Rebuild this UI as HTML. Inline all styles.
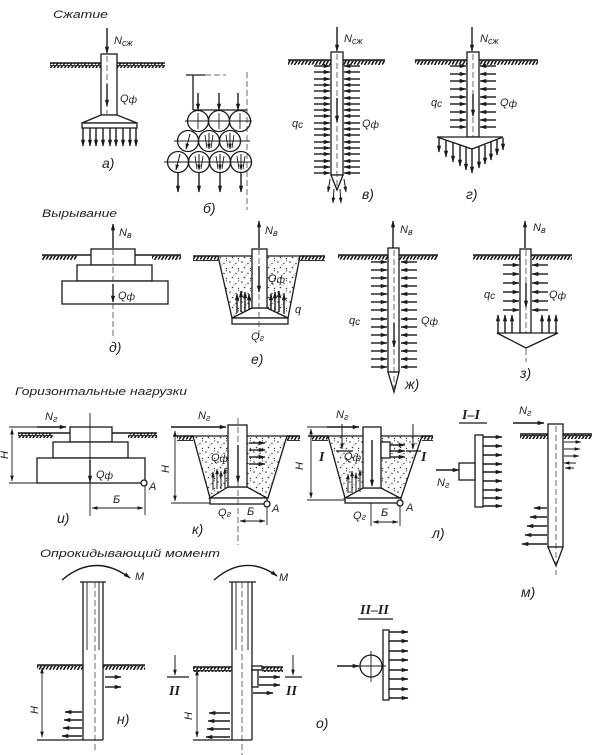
<!DOCTYPE html>
<html><head><meta charset="utf-8">
<style>
html,body{margin:0;padding:0;background:#fff;}
svg{display:block}
text{font-family:"Liberation Sans",sans-serif;font-style:italic;fill:#1e1e1e;font-size:11px}
.lb{font-size:14px}
.rn{font-family:"Liberation Serif",serif;font-size:14px;font-weight:bold}
.s{stroke:#1a1a1a;stroke-width:1.3;fill:none}
.w{stroke:#1a1a1a;stroke-width:1.3;fill:#fff}
.t{stroke:#1a1a1a;stroke-width:0.9;fill:none}
.d{stroke:#444;stroke-width:0.8;fill:none;stroke-dasharray:6 3}
.a{stroke:#1a1a1a;stroke-width:1.4;fill:none;marker-end:url(#m)}
.a2{stroke:#1a1a1a;stroke-width:1;fill:none;marker-end:url(#m2)}
.dm{stroke:#1a1a1a;stroke-width:0.9;fill:none;marker-end:url(#m2);marker-start:url(#m2s)}
.gl{stroke:#1a1a1a;stroke-width:1.6}
.gh{fill:url(#h)}
.tr{stroke:#1a1a1a;stroke-width:1.3;fill:url(#dots)}
</style></head>
<body>
<svg width="600" height="755" viewBox="0 0 600 755" xmlns="http://www.w3.org/2000/svg">
<defs>
<marker id="m" viewBox="0 0 10 6" refX="9" refY="3" markerWidth="7" markerHeight="4.6" markerUnits="userSpaceOnUse" orient="auto"><path d="M0,0L10,3L0,6z" fill="#1a1a1a"/></marker>
<marker id="m2" viewBox="0 0 10 6" refX="9" refY="3" markerWidth="6" markerHeight="3.6" markerUnits="userSpaceOnUse" orient="auto"><path d="M0,0L10,3L0,6z" fill="#1a1a1a"/></marker>
<marker id="m2s" viewBox="0 0 10 6" refX="9" refY="3" markerWidth="6" markerHeight="3.6" markerUnits="userSpaceOnUse" orient="auto-start-reverse"><path d="M0,0L10,3L0,6z" fill="#1a1a1a"/></marker>
<pattern id="h" width="7" height="5" patternUnits="userSpaceOnUse"><path d="M0.5,5L3.5,0M4.2,4.5L6.4,0.8" stroke="#111" stroke-width="1.5"/><rect x="0" y="0" width="7" height="1.2" fill="#333"/></pattern>
<pattern id="dots" width="12" height="10" patternUnits="userSpaceOnUse"><circle cx="2" cy="2" r=".8" fill="#333"/><circle cx="8" cy="3.5" r=".7" fill="#333"/><circle cx="4.5" cy="7.5" r=".8" fill="#333"/><circle cx="10.5" cy="8.5" r=".7" fill="#333"/><circle cx="10.5" cy="0.8" r=".6" fill="#333"/><circle cx="6" cy="5" r=".5" fill="#333"/></pattern>
<line id="R16" x1="0" y1="0" x2="16" y2="0" class="a"/>
<line id="L16" x1="16" y1="0" x2="0" y2="0" class="a"/>
<line id="R19" x1="0" y1="0" x2="19" y2="0" class="a"/>
<line id="R15" x1="0" y1="0" x2="15" y2="0" class="a"/>
<line id="L20" x1="20" y1="0" x2="0" y2="0" class="a"/>
<line id="D18" x1="0" y1="0" x2="0" y2="18" class="a"/>
<line id="U18" x1="0" y1="18" x2="0" y2="0" class="a"/>
</defs>

<!-- ===== Titles ===== -->
<text x="53" y="18" textLength="55" lengthAdjust="spacingAndGlyphs">Сжатие</text>
<text x="42" y="217" textLength="75" lengthAdjust="spacingAndGlyphs">Вырывание</text>
<text x="15" y="395" font-size="12" textLength="172" lengthAdjust="spacingAndGlyphs">Горизонтальные нагрузки</text>
<text x="40" y="557" font-size="12" textLength="180" lengthAdjust="spacingAndGlyphs">Опрокидывающий момент</text>

<!-- ===== а) ===== -->
<line x1="50" y1="63" x2="101" y2="63" class="gl"/><rect x="50" y="63" width="51" height="5" class="gh"/>
<line x1="117" y1="63" x2="165" y2="63" class="gl"/><rect x="117" y="63" width="48" height="5" class="gh"/>
<line x1="107" y1="28" x2="107" y2="53" class="a"/>
<text x="114" y="44">N<tspan font-size="9" dy="2">сж</tspan></text>
<rect x="101" y="54" width="16" height="61" class="w"/>
<line x1="107" y1="56" x2="107" y2="114" class="d"/>
<line x1="107" y1="84" x2="107" y2="106" class="a"/>
<text x="120" y="102">Q<tspan font-size="10" dy="1">ф</tspan></text>
<polygon points="101,115 117,115 137,123 82,123" class="w"/>
<rect x="82" y="123" width="55" height="5" class="w"/>
<use href="#D18" x="83" y="128"/><use href="#D18" x="90" y="128"/><use href="#D18" x="96" y="128"/><use href="#D18" x="103" y="128"/><use href="#D18" x="110" y="128"/><use href="#D18" x="116" y="128"/><use href="#D18" x="123" y="128"/><use href="#D18" x="130" y="128"/><use href="#D18" x="136" y="128"/>
<text x="102" y="168" class="lb">а)</text>

<!-- ===== б) ===== -->
<line x1="193" y1="75" x2="193" y2="110" class="s"/>
<line x1="186" y1="75" x2="205" y2="75" class="s"/>
<line x1="205" y1="75" x2="226" y2="75" class="d"/>
<line x1="247" y1="72" x2="247" y2="210" class="d"/>
<line x1="198" y1="93" x2="198" y2="110" class="a"/>
<line x1="219" y1="93" x2="219" y2="110" class="a"/>
<line x1="238" y1="93" x2="238" y2="110" class="a"/>
<line x1="193" y1="110" x2="247" y2="110" class="s"/>
<g class="s">
<circle cx="198" cy="121" r="10.5"/><circle cx="219" cy="121" r="10.5"/><circle cx="240" cy="121" r="10.5"/>
<circle cx="188" cy="141" r="10.5"/><circle cx="209" cy="141" r="10.5"/><circle cx="230" cy="141" r="10.5"/>
<circle cx="178" cy="162" r="10.5"/><circle cx="199" cy="162" r="10.5"/><circle cx="220" cy="162" r="10.5"/><circle cx="241" cy="162" r="10.5"/>
</g>
<g class="t">
<line x1="185" y1="121" x2="252" y2="121"/><line x1="174" y1="141" x2="250" y2="141"/><line x1="164" y1="162" x2="252" y2="162"/>
<line x1="198" y1="113" x2="198" y2="129"/><line x1="219" y1="113" x2="219" y2="129"/><line x1="240" y1="113" x2="240" y2="129"/>
</g>
<line x1="190" y1="134" x2="186" y2="149" class="a2"/>
<line x1="209" y1="133" x2="209" y2="149" class="a2"/><line x1="205" y1="135" x2="207" y2="148" class="t"/><line x1="213" y1="135" x2="211" y2="148" class="t"/>
<line x1="230" y1="133" x2="230" y2="149" class="a2"/><line x1="226" y1="135" x2="228" y2="148" class="t"/><line x1="234" y1="135" x2="232" y2="148" class="t"/>
<line x1="180" y1="154" x2="176" y2="170" class="a2"/>
<line x1="199" y1="154" x2="199" y2="170" class="a2"/><line x1="195" y1="156" x2="197" y2="169" class="t"/><line x1="203" y1="156" x2="201" y2="169" class="t"/>
<line x1="220" y1="154" x2="220" y2="170" class="a2"/><line x1="216" y1="156" x2="218" y2="169" class="t"/><line x1="224" y1="156" x2="222" y2="169" class="t"/>
<line x1="241" y1="154" x2="241" y2="170" class="a2"/><line x1="237" y1="156" x2="239" y2="169" class="t"/><line x1="245" y1="156" x2="243" y2="169" class="t"/>
<line x1="178" y1="172" x2="178" y2="192" class="a"/><line x1="199" y1="172" x2="199" y2="192" class="a"/><line x1="220" y1="172" x2="220" y2="192" class="a"/><line x1="241" y1="172" x2="241" y2="192" class="a"/>
<text x="203" y="213" class="lb">б)</text>

<!-- ===== в) ===== -->
<line x1="288" y1="60" x2="331" y2="60" class="gl"/><rect x="288" y="60" width="43" height="5" class="gh"/>
<line x1="343" y1="60" x2="385" y2="60" class="gl"/><rect x="343" y="60" width="42" height="5" class="gh"/>
<line x1="337" y1="27" x2="337" y2="51" class="a"/>
<text x="344" y="42">N<tspan font-size="9" dy="2">сж</tspan></text>
<rect x="331" y="52" width="12" height="123" class="w"/>
<polygon points="331,175 337,190 343,175" class="w"/>
<line x1="337" y1="54" x2="337" y2="188" class="d"/>
<line x1="337" y1="98" x2="337" y2="122" class="a"/>
<g>
<use href="#R16" x="314" y="66"/><use href="#R16" x="314" y="72"/><use href="#R16" x="314" y="79"/><use href="#R16" x="314" y="85"/><use href="#R16" x="314" y="91"/><use href="#R16" x="314" y="98"/><use href="#R16" x="314" y="104"/><use href="#R16" x="314" y="110"/><use href="#R16" x="314" y="116"/><use href="#R16" x="314" y="123"/><use href="#R16" x="314" y="129"/><use href="#R16" x="314" y="135"/><use href="#R16" x="314" y="142"/><use href="#R16" x="314" y="148"/><use href="#R16" x="314" y="154"/><use href="#R16" x="314" y="161"/><use href="#R16" x="314" y="167"/><use href="#R16" x="314" y="173"/>
<use href="#L16" x="344" y="66"/><use href="#L16" x="344" y="72"/><use href="#L16" x="344" y="79"/><use href="#L16" x="344" y="85"/><use href="#L16" x="344" y="91"/><use href="#L16" x="344" y="98"/><use href="#L16" x="344" y="104"/><use href="#L16" x="344" y="110"/><use href="#L16" x="344" y="116"/><use href="#L16" x="344" y="123"/><use href="#L16" x="344" y="129"/><use href="#L16" x="344" y="135"/><use href="#L16" x="344" y="142"/><use href="#L16" x="344" y="148"/><use href="#L16" x="344" y="154"/><use href="#L16" x="344" y="161"/><use href="#L16" x="344" y="167"/><use href="#L16" x="344" y="173"/>
</g>
<line x1="330" y1="179" x2="328" y2="192" class="a2"/><line x1="334" y1="189" x2="333" y2="203" class="a2"/><line x1="340" y1="189" x2="341" y2="203" class="a2"/><line x1="344" y1="179" x2="346" y2="192" class="a2"/>
<text x="292" y="127">q<tspan font-size="10" dy="1">с</tspan></text>
<text x="362" y="127">Q<tspan font-size="10" dy="1">ф</tspan></text>
<text x="362" y="199" class="lb">в)</text>

<!-- ===== г) ===== -->
<line x1="415" y1="60" x2="467" y2="60" class="gl"/><rect x="415" y="60" width="52" height="5" class="gh"/>
<line x1="479" y1="60" x2="538" y2="60" class="gl"/><rect x="479" y="60" width="59" height="5" class="gh"/>
<line x1="472" y1="27" x2="472" y2="51" class="a"/>
<text x="480" y="42">N<tspan font-size="9" dy="2">сж</tspan></text>
<rect x="467" y="52" width="12" height="85" class="w"/>
<line x1="473" y1="54" x2="473" y2="137" class="d"/>
<line x1="473" y1="94" x2="473" y2="116" class="a"/>
<polygon points="437,137 503,137 472,149" class="w"/>
<g>
<use href="#R16" x="450" y="66"/><use href="#R16" x="450" y="74"/><use href="#R16" x="450" y="81"/><use href="#R16" x="450" y="89"/><use href="#R16" x="450" y="97"/><use href="#R16" x="450" y="104"/><use href="#R16" x="450" y="112"/><use href="#R16" x="450" y="120"/><use href="#R16" x="450" y="127"/>
<use href="#L16" x="480" y="66"/><use href="#L16" x="480" y="74"/><use href="#L16" x="480" y="81"/><use href="#L16" x="480" y="89"/><use href="#L16" x="480" y="97"/><use href="#L16" x="480" y="104"/><use href="#L16" x="480" y="112"/><use href="#L16" x="480" y="120"/><use href="#L16" x="480" y="127"/>
</g>
<line x1="439" y1="138" x2="439" y2="152" class="a"/><line x1="446" y1="140" x2="446" y2="157" class="a"/><line x1="453" y1="142" x2="453" y2="162" class="a"/><line x1="460" y1="145" x2="460" y2="166" class="a"/><line x1="466" y1="147" x2="466" y2="170" class="a"/><line x1="472" y1="149" x2="472" y2="173" class="a"/><line x1="479" y1="147" x2="479" y2="168" class="a"/><line x1="485" y1="145" x2="485" y2="164" class="a"/><line x1="491" y1="142" x2="491" y2="160" class="a"/><line x1="497" y1="140" x2="497" y2="155" class="a"/><line x1="503" y1="138" x2="503" y2="150" class="a"/>
<text x="431" y="106">q<tspan font-size="10" dy="1">с</tspan></text>
<text x="500" y="106">Q<tspan font-size="10" dy="1">ф</tspan></text>
<text x="466" y="199" class="lb">г)</text>

<!-- ===== д) ===== -->
<line x1="42" y1="255" x2="91" y2="255" class="gl"/><rect x="42" y="255" width="35" height="5" class="gh"/>
<line x1="135" y1="255" x2="181" y2="255" class="gl"/><rect x="152" y="255" width="29" height="5" class="gh"/>
<rect x="91" y="249" width="44" height="16" class="w"/>
<rect x="77" y="265" width="75" height="16" class="w"/>
<rect x="62" y="281" width="106" height="23" class="w"/>
<line x1="113" y1="240" x2="113" y2="336" class="d"/>
<line x1="113" y1="248" x2="113" y2="224" class="a"/>
<text x="119" y="236">N<tspan font-size="9" dy="2">в</tspan></text>
<line x1="113" y1="284" x2="113" y2="302" class="a"/>
<text x="118" y="299">Q<tspan font-size="10" dy="1">ф</tspan></text>
<text x="109" y="352" class="lb">д)</text>

<!-- ===== е) ===== -->
<line x1="193" y1="256" x2="218" y2="256" class="gl"/><rect x="193" y="256" width="25" height="5" class="gh"/>
<line x1="300" y1="256" x2="325" y2="256" class="gl"/><rect x="300" y="256" width="25" height="5" class="gh"/>
<polygon points="218,256 300,256 288,318 232,318" class="tr"/>
<polygon points="252,308 267,308 288,318 232,318" class="w"/>
<rect x="232" y="318" width="56" height="6" class="w"/>
<rect x="252" y="249" width="15" height="59" class="w"/>
<line x1="259" y1="222" x2="259" y2="336" class="d"/>
<line x1="259" y1="248" x2="259" y2="221" class="a"/>
<text x="265" y="234">N<tspan font-size="9" dy="2">в</tspan></text>
<line x1="259" y1="266" x2="259" y2="292" class="a"/>
<text x="268" y="282">Q<tspan font-size="10" dy="1">ф</tspan></text>
<line x1="237" y1="313" x2="237" y2="294" class="a"/><line x1="241" y1="312" x2="241" y2="291" class="a"/><line x1="245" y1="311" x2="245" y2="292" class="a"/><line x1="249" y1="310" x2="249" y2="294" class="a"/>
<line x1="271" y1="310" x2="271" y2="294" class="a"/><line x1="275" y1="311" x2="275" y2="292" class="a"/><line x1="279" y1="312" x2="279" y2="291" class="a"/><line x1="284" y1="313" x2="284" y2="294" class="a"/>
<text x="295" y="313">q</text>
<text x="251" y="340">Q<tspan font-size="9" dy="1">г</tspan></text>
<text x="251" y="364" class="lb">е)</text>

<!-- ===== ж) ===== -->
<line x1="338" y1="255" x2="388" y2="255" class="gl"/><rect x="338" y="255" width="50" height="5" class="gh"/>
<line x1="399" y1="255" x2="438" y2="255" class="gl"/><rect x="399" y="255" width="39" height="5" class="gh"/>
<rect x="388" y="248" width="11" height="124" class="w"/>
<polygon points="388,372 394,392 399,372" class="w"/>
<line x1="394" y1="250" x2="394" y2="392" class="d"/>
<line x1="393" y1="248" x2="393" y2="221" class="a"/>
<text x="400" y="233">N<tspan font-size="9" dy="2">в</tspan></text>
<line x1="394" y1="323" x2="394" y2="347" class="a"/>
<g>
<use href="#R16" x="371" y="262"/><use href="#R16" x="371" y="270"/><use href="#R16" x="371" y="278"/><use href="#R16" x="371" y="286"/><use href="#R16" x="371" y="294"/><use href="#R16" x="371" y="302"/><use href="#R16" x="371" y="310"/><use href="#R16" x="371" y="319"/><use href="#R16" x="371" y="327"/><use href="#R16" x="371" y="335"/><use href="#R16" x="371" y="343"/><use href="#R16" x="371" y="351"/><use href="#R16" x="371" y="359"/><use href="#R16" x="371" y="367"/>
<use href="#L16" x="401" y="262"/><use href="#L16" x="401" y="270"/><use href="#L16" x="401" y="278"/><use href="#L16" x="401" y="286"/><use href="#L16" x="401" y="294"/><use href="#L16" x="401" y="302"/><use href="#L16" x="401" y="310"/><use href="#L16" x="401" y="319"/><use href="#L16" x="401" y="327"/><use href="#L16" x="401" y="335"/><use href="#L16" x="401" y="343"/><use href="#L16" x="401" y="351"/><use href="#L16" x="401" y="359"/><use href="#L16" x="401" y="367"/>
</g>
<text x="349" y="324">q<tspan font-size="10" dy="1">с</tspan></text>
<text x="421" y="324">Q<tspan font-size="10" dy="1">ф</tspan></text>
<text x="405" y="389" class="lb">ж)</text>

<!-- ===== з) ===== -->
<line x1="473" y1="255" x2="520" y2="255" class="gl"/><rect x="473" y="255" width="47" height="5" class="gh"/>
<line x1="531" y1="255" x2="572" y2="255" class="gl"/><rect x="531" y="255" width="41" height="5" class="gh"/>
<rect x="520" y="249" width="11" height="84" class="w"/>
<line x1="526" y1="250" x2="526" y2="362" class="d"/>
<line x1="525" y1="248" x2="525" y2="221" class="a"/>
<text x="533" y="231">N<tspan font-size="9" dy="2">в</tspan></text>
<line x1="526" y1="283" x2="526" y2="307" class="a"/>
<polygon points="497,333 558,333 526,348" class="w"/>
<g>
<use href="#R16" x="503" y="265"/><use href="#R16" x="503" y="274"/><use href="#R16" x="503" y="283"/><use href="#R16" x="503" y="292"/><use href="#R16" x="503" y="301"/><use href="#R16" x="503" y="310"/>
<use href="#L16" x="532" y="265"/><use href="#L16" x="532" y="274"/><use href="#L16" x="532" y="283"/><use href="#L16" x="532" y="292"/><use href="#L16" x="532" y="301"/><use href="#L16" x="532" y="310"/>
</g>
<use href="#U18" x="498" y="315"/><use href="#U18" x="505" y="315"/><use href="#U18" x="512" y="315"/>
<use href="#U18" x="542" y="315"/><use href="#U18" x="549" y="315"/><use href="#U18" x="556" y="315"/>
<text x="484" y="298">q<tspan font-size="10" dy="1">с</tspan></text>
<text x="549" y="298">Q<tspan font-size="10" dy="1">ф</tspan></text>
<text x="520" y="378" class="lb">з)</text>

<!-- ===== и) ===== -->
<line x1="9" y1="427" x2="37" y2="427" class="t"/>
<line x1="37" y1="427" x2="66" y2="427" class="a"/>
<text x="45" y="420">N<tspan font-size="9" dy="2">г</tspan></text>
<line x1="9" y1="483" x2="37" y2="483" class="t"/>
<line x1="12" y1="429" x2="12" y2="481" class="dm"/>
<text transform="translate(8,455) rotate(-90)" text-anchor="middle">H</text>
<line x1="18" y1="433" x2="70" y2="433" class="gl"/><rect x="18" y="433" width="35" height="5" class="gh"/>
<line x1="112" y1="433" x2="157" y2="433" class="gl"/><rect x="128" y="433" width="29" height="5" class="gh"/>
<rect x="70" y="427" width="42" height="15" class="w"/>
<rect x="53" y="442" width="75" height="16" class="w"/>
<rect x="37" y="458" width="108" height="25" class="w"/>
<line x1="90" y1="413" x2="90" y2="516" class="t"/>
<line x1="90" y1="460" x2="90" y2="482" class="a"/>
<text x="96" y="478">Q<tspan font-size="10" dy="1">ф</tspan></text>
<line x1="145" y1="486" x2="145" y2="515" class="t"/>
<line x1="92" y1="508" x2="143" y2="508" class="dm"/>
<circle cx="144" cy="483" r="3" class="w" stroke-width="1"/>
<text x="149" y="490">А</text>
<text x="113" y="503">Б</text>
<text x="57" y="523" class="lb">и)</text>

<!-- ===== к) ===== -->
<line x1="171" y1="427" x2="226" y2="427" class="a"/>
<text x="198" y="419">N<tspan font-size="9" dy="2">г</tspan></text>
<line x1="175" y1="431" x2="175" y2="501" class="dm"/>
<line x1="171" y1="503" x2="210" y2="503" class="t"/>
<text transform="translate(169,469) rotate(-90)" text-anchor="middle">H</text>
<line x1="173" y1="436" x2="193" y2="436" class="gl"/><rect x="177" y="436" width="16" height="5" class="gh"/>
<line x1="287" y1="436" x2="300" y2="436" class="gl"/><rect x="287" y="436" width="13" height="5" class="gh"/>
<polygon points="193,436 287,436 268,498 210,498" class="tr"/>
<polygon points="228,487 247,487 267,498 210,498" class="w"/>
<rect x="210" y="498" width="57" height="6" class="w"/>
<rect x="228" y="425" width="19" height="62" class="w"/>
<line x1="238" y1="418" x2="238" y2="545" class="d"/>
<line x1="238" y1="445" x2="238" y2="482" class="a"/>
<use href="#R16" x="249" y="443"/><use href="#R16" x="249" y="450"/><use href="#R16" x="249" y="457"/><use href="#R16" x="249" y="464"/>
<line x1="213" y1="490" x2="213" y2="472" class="a2"/><line x1="217" y1="489" x2="217" y2="469" class="a2"/><line x1="221" y1="489" x2="221" y2="471" class="a2"/><line x1="225" y1="488" x2="225" y2="468" class="a2"/>
<text x="211" y="461">Q<tspan font-size="10" dy="1">ф</tspan></text>
<circle cx="267" cy="504" r="3" class="w" stroke-width="1"/>
<text x="272" y="512">А</text>
<line x1="267" y1="507" x2="267" y2="525" class="t"/>
<line x1="240" y1="521" x2="265" y2="521" class="dm"/>
<text x="247" y="515">Б</text>
<text x="218" y="516">Q<tspan font-size="9" dy="1">г</tspan></text>
<text x="192" y="534" class="lb">к)</text>

<!-- ===== л) ===== -->
<line x1="327" y1="427" x2="359" y2="427" class="a"/>
<text x="336" y="418">N<tspan font-size="9" dy="2">г</tspan></text>
<line x1="307" y1="427" x2="327" y2="427" class="t"/>
<line x1="311" y1="429" x2="311" y2="498" class="dm"/>
<line x1="307" y1="500" x2="345" y2="500" class="t"/>
<text transform="translate(303,466) rotate(-90)" text-anchor="middle">H</text>
<line x1="308" y1="436" x2="328" y2="436" class="gl"/><rect x="312" y="436" width="16" height="5" class="gh"/>
<line x1="422" y1="436" x2="433" y2="436" class="gl"/><rect x="422" y="436" width="11" height="5" class="gh"/>
<polygon points="328,436 422,436 401,498 345,498" class="tr"/>
<polygon points="363,488 381,488 400,498 345,498" class="w"/>
<rect x="345" y="498" width="56" height="5" class="w"/>
<rect x="363" y="427" width="18" height="61" class="w"/>
<line x1="372" y1="440" x2="372" y2="486" class="a"/>
<rect x="381" y="442" width="9" height="16" class="w"/>
<use href="#R15" x="390" y="445"/><use href="#R15" x="390" y="451"/><use href="#R15" x="390" y="457"/>
<line x1="342" y1="424" x2="342" y2="449" class="a2"/>
<line x1="336" y1="451" x2="353" y2="451" class="s"/>
<text x="319" y="461" class="rn">I</text>
<line x1="413" y1="424" x2="413" y2="449" class="a2"/>
<line x1="406" y1="451" x2="421" y2="451" class="s"/>
<text x="421" y="461" class="rn">I</text>
<line x1="348" y1="493" x2="348" y2="474" class="a2"/><line x1="352" y1="493" x2="352" y2="471" class="a2"/><line x1="356" y1="492" x2="356" y2="473" class="a2"/><line x1="360" y1="492" x2="360" y2="470" class="a2"/>
<text x="344" y="460">Q<tspan font-size="10" dy="1">ф</tspan></text>
<circle cx="400" cy="503" r="3" class="w" stroke-width="1"/>
<text x="406" y="511">А</text>
<line x1="400" y1="506" x2="400" y2="526" class="t"/>
<line x1="371" y1="503" x2="371" y2="526" class="t"/>
<line x1="373" y1="522" x2="398" y2="522" class="dm"/>
<text x="381" y="516">Б</text>
<text x="353" y="519">Q<tspan font-size="9" dy="1">г</tspan></text>
<text x="432" y="538" class="lb">л)</text>

<!-- ===== I-I ===== -->
<text x="462" y="419" class="rn">I–I</text>
<line x1="459" y1="423" x2="487" y2="423" class="s"/>
<rect x="475" y="435" width="8" height="72" class="w"/>
<use href="#R19" x="483" y="437"/><use href="#R19" x="483" y="446"/><use href="#R19" x="483" y="455"/><use href="#R19" x="483" y="464"/><use href="#R19" x="483" y="472"/><use href="#R19" x="483" y="481"/><use href="#R19" x="483" y="490"/><use href="#R19" x="483" y="498"/><use href="#R19" x="483" y="506"/>
<rect x="459" y="463" width="16" height="17" class="w"/>
<line x1="436" y1="470" x2="459" y2="470" class="a"/>
<text x="437" y="486">N<tspan font-size="9" dy="2">г</tspan></text>

<!-- ===== м) ===== -->
<line x1="513" y1="423" x2="544" y2="423" class="a"/>
<text x="519" y="414">N<tspan font-size="9" dy="2">г</tspan></text>
<line x1="520" y1="434" x2="548" y2="434" class="gl"/><rect x="520" y="434" width="28" height="5" class="gh"/>
<line x1="563" y1="434" x2="592" y2="434" class="gl"/><rect x="563" y="434" width="29" height="5" class="gh"/>
<rect x="548" y="424" width="15" height="123" class="w"/>
<polygon points="548,547 556,566 563,547" class="w"/>
<line x1="556" y1="426" x2="556" y2="575" class="d"/>
<line x1="564" y1="442" x2="581" y2="442" class="a2"/><line x1="564" y1="449" x2="580" y2="449" class="a2"/><line x1="564" y1="456" x2="579" y2="456" class="a2"/><line x1="576" y1="463" x2="564" y2="463" class="a2"/><line x1="574" y1="468" x2="565" y2="468" class="a2"/>
<line x1="547" y1="508" x2="534" y2="508" class="a"/><line x1="547" y1="517" x2="530" y2="517" class="a"/><line x1="547" y1="526" x2="527" y2="526" class="a"/><line x1="547" y1="535" x2="525" y2="535" class="a"/><line x1="547" y1="544" x2="522" y2="544" class="a"/>
<text x="521" y="597" class="lb">м)</text>

<!-- ===== н) ===== -->
<path d="M62,580 Q95,552 130,578" class="a"/>
<text x="135" y="580">M</text>
<line x1="80" y1="582" x2="106" y2="582" class="s"/>
<line x1="83" y1="582" x2="83" y2="740" class="s"/>
<line x1="103" y1="582" x2="103" y2="740" class="s"/>
<line x1="87" y1="582" x2="87" y2="650" class="t" stroke="#666"/>
<line x1="99" y1="582" x2="99" y2="650" class="t" stroke="#666"/>
<line x1="95" y1="582" x2="95" y2="750" class="d"/>
<line x1="37" y1="665" x2="83" y2="665" class="gl"/><rect x="37" y="665" width="46" height="5" class="gh"/>
<line x1="103" y1="665" x2="145" y2="665" class="gl"/><rect x="103" y="665" width="42" height="5" class="gh"/>
<line x1="37" y1="740" x2="103" y2="740" class="s"/>
<line x1="42" y1="668" x2="42" y2="737" class="dm"/>
<text transform="translate(38,710) rotate(-90)" text-anchor="middle">H</text>
<use href="#R16" x="105" y="677"/><use href="#R16" x="105" y="687"/>
<line x1="82" y1="712" x2="65" y2="712" class="a"/><line x1="82" y1="720" x2="64" y2="720" class="a"/><line x1="82" y1="728" x2="63" y2="728" class="a"/><line x1="82" y1="736" x2="62" y2="736" class="a"/>
<text x="117" y="724" class="lb">н)</text>

<!-- ===== о) ===== -->
<path d="M214,580 Q245,553 277,576" class="a"/>
<text x="279" y="581">M</text>
<line x1="229" y1="582" x2="256" y2="582" class="s"/>
<line x1="232" y1="582" x2="232" y2="740" class="s"/>
<line x1="252" y1="582" x2="252" y2="740" class="s"/>
<line x1="236" y1="582" x2="236" y2="650" class="t" stroke="#666"/>
<line x1="248" y1="582" x2="248" y2="650" class="t" stroke="#666"/>
<line x1="242" y1="582" x2="242" y2="755" class="d"/>
<line x1="193" y1="667" x2="232" y2="667" class="gl"/><rect x="193" y="667" width="39" height="5" class="gh"/>
<line x1="252" y1="667" x2="283" y2="667" class="gl"/><rect x="262" y="667" width="21" height="5" class="gh"/>
<line x1="193" y1="740" x2="252" y2="740" class="s"/>
<line x1="197" y1="670" x2="197" y2="737" class="dm"/>
<text transform="translate(192,716) rotate(-90)" text-anchor="middle">H</text>
<line x1="175" y1="655" x2="175" y2="675" class="a2"/>
<line x1="167" y1="677" x2="189" y2="677" class="s"/>
<text x="169" y="695" class="rn">II</text>
<line x1="293" y1="655" x2="293" y2="675" class="a2"/>
<line x1="285" y1="677" x2="302" y2="677" class="s"/>
<text x="286" y="695" class="rn">II</text>
<rect x="252" y="666" width="10" height="4" class="w" stroke-width="1"/>
<rect x="252" y="670" width="6" height="17" class="w" stroke-width="1"/>
<line x1="259" y1="677" x2="280" y2="677" class="a"/><line x1="259" y1="685" x2="280" y2="685" class="a"/><line x1="253" y1="693" x2="273" y2="693" class="a"/>
<line x1="230" y1="713" x2="209" y2="713" class="a"/><line x1="230" y1="721" x2="208" y2="721" class="a"/><line x1="230" y1="729" x2="207" y2="729" class="a"/><line x1="230" y1="737" x2="206" y2="737" class="a"/>
<text x="316" y="728" class="lb">о)</text>

<!-- ===== II-II ===== -->
<text x="360" y="614" class="rn">II–II</text>
<line x1="358" y1="619" x2="393" y2="619" class="s"/>
<rect x="383" y="630" width="6" height="70" class="w"/>
<use href="#R19" x="389" y="632"/><use href="#R19" x="389" y="641"/><use href="#R19" x="389" y="651"/><use href="#R19" x="389" y="660"/><use href="#R19" x="389" y="670"/><use href="#R19" x="389" y="679"/><use href="#R19" x="389" y="689"/><use href="#R19" x="389" y="698"/>
<circle cx="371" cy="666" r="11" class="w"/>
<line x1="356" y1="666" x2="386" y2="666" class="t"/>
<line x1="371" y1="651" x2="371" y2="682" class="t"/>
<line x1="337" y1="666" x2="359" y2="666" class="a"/>
</svg>
</body></html>
